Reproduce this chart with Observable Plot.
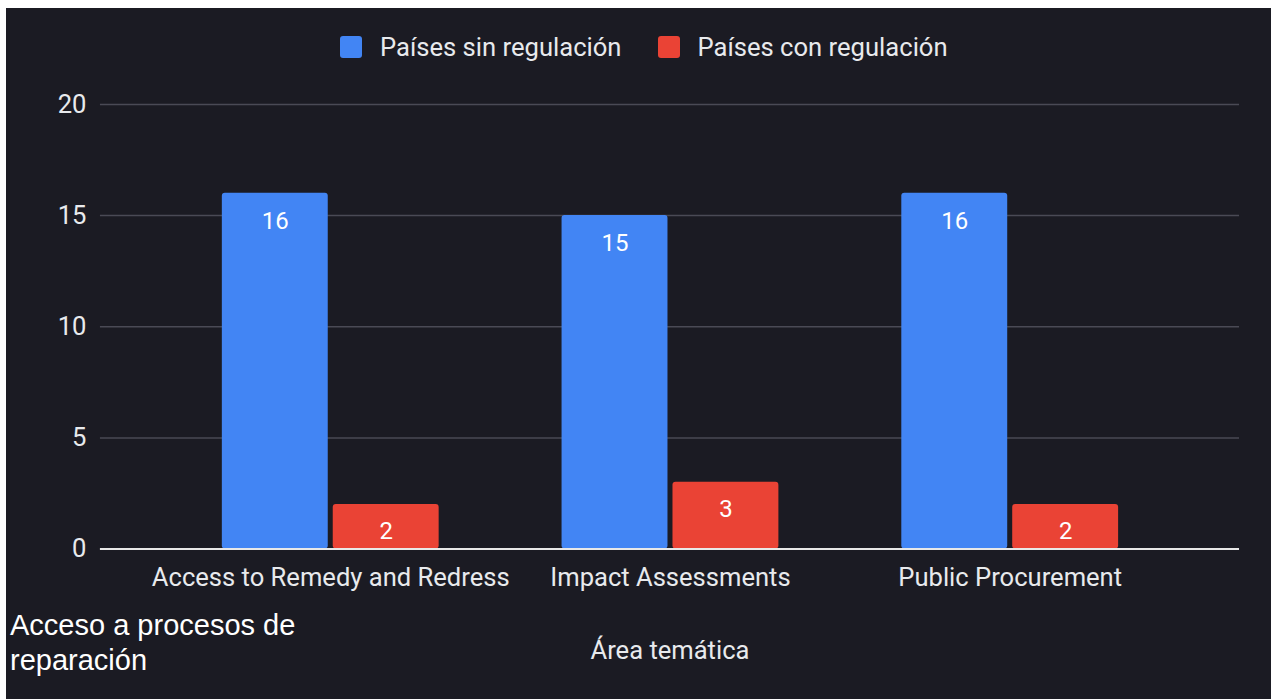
<!DOCTYPE html>
<html>
<head>
<meta charset="utf-8">
<script src="https://cdn.jsdelivr.net/npm/d3@7"></script>
<script src="https://cdn.jsdelivr.net/npm/@observablehq/plot@0.6"></script>
<style>
  html, body { margin: 0; padding: 0; background: #ffffff; }
  #frame { position: absolute; left: 6px; top: 8px; width: 1265px; height: 691px; background: #1b1b23; overflow: hidden; }
  #legend { position: absolute; left: 334px; top: 28px; height: 22px; display: flex; align-items: center; font-family: Roboto, sans-serif; font-size: 25.6px; color: #e8eaed; white-space: nowrap; }
  .sw { width: 22px; height: 22px; border-radius: 3px; display: inline-block; margin-right: 18px; }
  .item { display: flex; align-items: center; margin-right: 36px; }
  #note { position: absolute; left: 4px; top: 600px; font-family: "Liberation Sans", Arial, sans-serif; font-size: 29px; line-height: 35px; color: #ffffff; }
  #chart { position: absolute; left: 0; top: 0; }
</style>
</head>
<body>
<div id="frame">
  <div id="chart"></div>
  <div id="legend"></div>
  <div id="note">Acceso a procesos de<br>reparación</div>
</div>
<script>
const categories = ["Access to Remedy and Redress", "Impact Assessments", "Public Procurement"];
const seriesNames = ["Países sin regulación", "Países con regulación"];
const seriesColors = ["#4285f4", "#ea4335"];
const sinRegulacion = [16, 15, 16];
const conRegulacion = [2, 3, 2];
const yTicks = [0, 5, 10, 15, 20];
const xTitle = "Área temática";

// legend
const legend = document.getElementById("legend");
seriesNames.forEach((name, i) => {
  const item = document.createElement("span");
  item.className = "item";
  const sw = document.createElement("span");
  sw.className = "sw";
  sw.style.background = seriesColors[i];
  item.appendChild(sw);
  item.appendChild(document.createTextNode(name));
  legend.appendChild(item);
});

const BAR_INSET = 111;
const LABEL_DX = 55.5;

const chart = Plot.plot({
  width: 1266,
  height: 691,
  marginLeft: 94,
  marginRight: 32,
  marginTop: 96,
  marginBottom: 150,
  style: { fontFamily: "Roboto, sans-serif", background: "transparent", color: "#e8eaed", fontSize: "25.6px", overflow: "visible" },
  x: { type: "band", domain: categories, paddingInner: 0.362, paddingOuter: 0.357 },
  y: { domain: [0, 20], ticks: yTicks },
  marks: [
    Plot.gridY(yTicks, { stroke: "#4a4a55", strokeOpacity: 1, strokeWidth: 1.5 }),
    Plot.barY(categories, { x: d => d, y: (d, i) => sinRegulacion[i], fill: seriesColors[0], insetRight: BAR_INSET, rx: 3 }),
    Plot.barY(categories, { x: d => d, y: (d, i) => conRegulacion[i], fill: seriesColors[1], insetLeft: BAR_INSET, rx: 3 }),
    Plot.text(categories, { x: d => d, y: (d, i) => sinRegulacion[i], text: (d, i) => String(sinRegulacion[i]), dx: -LABEL_DX, dy: 28, fill: "#ffffff", fontSize: 24 }),
    Plot.text(categories, { x: d => d, y: (d, i) => conRegulacion[i], text: (d, i) => String(conRegulacion[i]), dx: LABEL_DX, dy: 27, fill: "#ffffff", fontSize: 24 }),
    Plot.ruleY([0], { stroke: "#e8e8e8", strokeWidth: 2 }),
    Plot.axisY(yTicks, { tickSize: 0, tickPadding: 14, fontSize: 25.6, label: null, fill: "#e8eaed" }),
    Plot.axisX({ tickSize: 0, tickPadding: 19, fontSize: 25.6, label: null, fill: "#e8eaed" }),
    Plot.text([xTitle], { frameAnchor: "bottom", dy: 110, fontSize: 25.6, fill: "#e8eaed" })
  ]
});
document.getElementById("chart").appendChild(chart);
</script>
</body>
</html>
